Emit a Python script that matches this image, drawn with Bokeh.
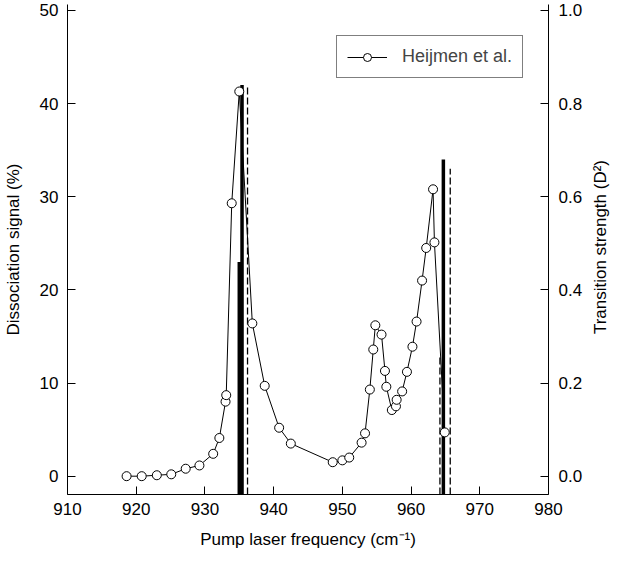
import math
from bokeh.plotting import figure
from bokeh.models import Range1d, LinearAxis, FixedTicker, PrintfTickFormatter, ColumnDataSource, Label
from bokeh.embed import file_html
from bokeh.resources import INLINE

# Heijmen et al. dissociation signal (%)
freq = [918.6, 920.8, 923.0, 925.1, 927.2, 929.2, 931.2, 932.1, 933.0, 933.1, 933.9,
        935.0, 936.9, 938.7, 940.8, 942.5, 948.6, 950.0, 951.0, 952.8, 953.3, 954.0,
        954.5, 954.8, 955.7, 956.2, 956.4, 957.2, 957.8, 957.9, 958.7, 959.4, 960.2,
        960.8, 961.6, 962.2, 963.2, 963.4, 964.9]
signal = [0.0, 0.0, 0.1, 0.2, 0.8, 1.15, 2.4, 4.1, 8.0, 8.7, 29.3,
          41.3, 16.4, 9.7, 5.2, 3.5, 1.5, 1.7, 2.0, 3.6, 4.6, 9.3,
          13.6, 16.2, 15.2, 11.3, 9.6, 7.1, 7.5, 8.2, 9.1, 11.2, 13.9,
          16.6, 21.0, 24.5, 30.8, 25.1, 4.7]

# Transition strengths (D^2)
solid_freq = [935.0, 935.4, 964.7]
solid_strength = [0.46, 0.84, 0.68]
dash_freq = [936.2, 964.2, 965.7]
dash_strength = [0.84, 0.26, 0.66]

x_ticks = [910, 920, 930, 940, 950, 960, 970, 980]
y_ticks = [0, 10, 20, 30, 40, 50]
y2_ticks = [0.0, 0.2, 0.4, 0.6, 0.8, 1.0]

FONT = "Liberation Sans"
FS = "17px"

y_lo, y_hi = -1.967, 50.64
y2_lo, y2_hi = y_lo / 50.0, y_hi / 50.0

p = figure(width=610, height=551, output_backend="svg", toolbar_location=None,
           x_range=Range1d(910, 980), y_range=Range1d(y_lo, y_hi),
           min_border_left=66, min_border_right=62, min_border_top=4, min_border_bottom=55)
p.outline_line_color = None
p.grid.visible = False
p.background_fill_color = "white"
p.border_fill_color = "white"

p.extra_y_ranges = {"ts": Range1d(y2_lo, y2_hi)}

# transition strength sticks
p.segment(x0=solid_freq, y0=[y2_lo] * len(solid_freq), x1=solid_freq, y1=solid_strength,
          y_range_name="ts", line_color="black", line_width=3.5)
p.segment(x0=dash_freq, y0=[y2_lo] * len(dash_freq), x1=dash_freq, y1=dash_strength,
          y_range_name="ts", line_color="black", line_width=1.3, line_dash="7 3")

src = ColumnDataSource(dict(x=freq, y=signal))
p.line("x", "y", source=src, line_color="black", line_width=1, legend_label="Heijmen et al.")
p.scatter("x", "y", source=src, size=9, marker="circle", fill_color="white",
          line_color="black", line_width=1, legend_label="Heijmen et al.")

def style(ax):
    ax.major_tick_in = 8
    ax.major_tick_out = 0
    ax.minor_tick_in = 0
    ax.minor_tick_out = 0
    ax.axis_line_color = "black"
    ax.major_tick_line_color = "black"
    ax.major_label_text_font = FONT
    ax.major_label_text_font_size = FS
    ax.major_label_text_color = "black"
    ax.axis_label_text_font = FONT
    ax.axis_label_text_font_size = FS
    ax.axis_label_text_font_style = "normal"
    ax.axis_label_text_color = "black"

p.xaxis.ticker = FixedTicker(ticks=x_ticks)
p.xaxis.axis_label = "Pump laser frequency (cm\u207b\u00b9)"
p.xaxis.major_label_standoff = 8
p.xaxis.axis_label_standoff = 12
style(p.xaxis[0])

p.yaxis.ticker = FixedTicker(ticks=y_ticks)
p.yaxis.axis_label = "Dissociation signal (%)"
p.yaxis.major_label_standoff = 9
p.yaxis.axis_label_standoff = 14
style(p.yaxis[0])

ax2 = LinearAxis(y_range_name="ts", ticker=FixedTicker(ticks=y2_ticks),
                 formatter=PrintfTickFormatter(format="%.1f"))
ax2.major_label_standoff = 10
style(ax2)
p.add_layout(ax2, "right")

# right-hand title, reading bottom-to-top like the left one
rt = Label(x=15, y=24.6, x_units="screen", y_units="data",
           text="Transition strength (D\u00b2)", angle=math.pi / 2,
           text_align="center", text_baseline="middle",
           text_font=FONT, text_font_size=FS, text_color="black")
p.add_layout(rt, "right")

lg = p.legend[0]
lg.location = (269, 416)
lg.label_text_font = FONT
lg.label_text_font_size = "18px"
lg.glyph_width = 40
lg.glyph_height = 20
lg.label_height = 20
lg.label_standoff = 15
lg.padding = 10
lg.margin = 0
lg.spacing = 0
lg.border_line_color = "black"
lg.border_line_width = 1
lg.background_fill_alpha = 1.0

open("out.html", "w").write(file_html(p, INLINE))
